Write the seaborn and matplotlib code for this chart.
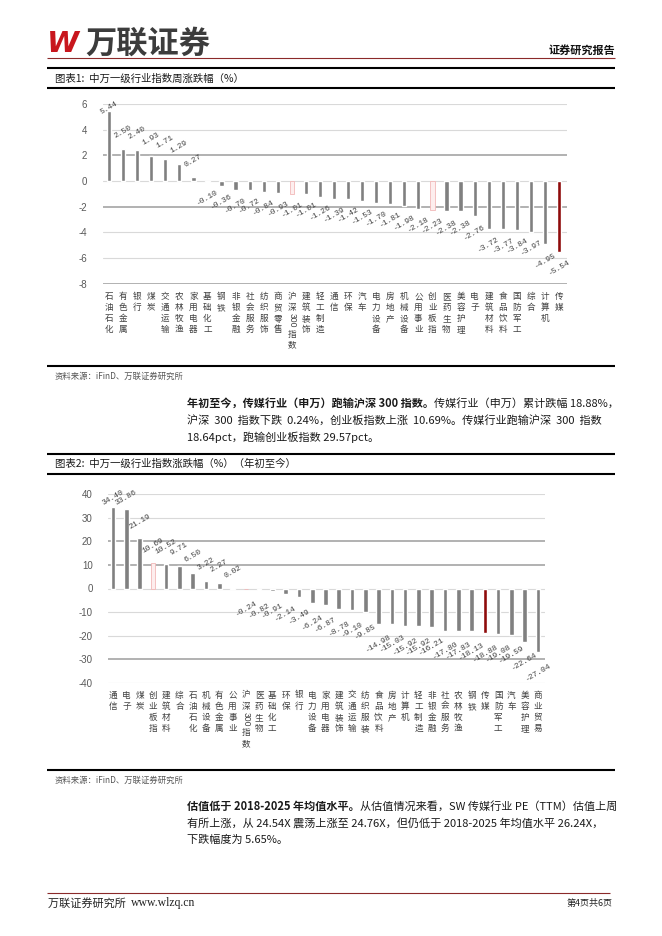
import matplotlib
matplotlib.use("Agg")
import matplotlib.pyplot as plt
from matplotlib.lines import Line2D
import seaborn as sns

# ---------------- data ----------------
week_cats = ["石油石化", "有色金属", "银行", "煤炭", "交通运输", "农林牧渔", "家用电器",
             "基础化工", "钢铁", "非银金融", "社会服务", "纺织服饰", "商贸零售", "沪深300指数",
             "建筑装饰", "轻工制造", "通信", "环保", "汽车", "电力设备", "房地产", "机械设备",
             "公用事业", "创业板指", "医药生物", "美容护理", "电子", "建筑材料", "食品饮料",
             "国防军工", "综合", "计算机", "传媒"]
week_vals = [5.44, 2.50, 2.40, 1.93, 1.71, 1.29, 0.27, -0.10, -0.36, -0.70, -0.72, -0.84,
             -0.93, -1.01, -1.01, -1.26, -1.39, -1.42, -1.53, -1.70, -1.81, -1.98, -2.18,
             -2.23, -2.38, -2.38, -2.76, -3.72, -3.77, -3.84, -3.97, -4.95, -5.54]
week_yticks = [6, 4, 2, 0, -2, -4, -6, -8]

ytd_cats = ["通信", "电子", "煤炭", "创业板指", "建筑材料", "综合", "石油石化", "机械设备",
            "有色金属", "公用事业", "沪深300指数", "医药生物", "基础化工", "环保", "银行",
            "电力设备", "家用电器", "建筑装饰", "交通运输", "纺织服装", "食品饮料", "房地产",
            "计算机", "轻工制造", "非银金融", "社会服务", "农林牧渔", "钢铁", "传媒", "国防军工",
            "汽车", "美容护理", "商业贸易"]
ytd_vals = [34.40, 33.86, 21.19, 10.69, 10.52, 9.71, 6.50, 3.22, 2.27, 0.02, -0.24, -0.82,
            -0.91, -2.14, -3.49, -6.24, -6.87, -8.78, -9.10, -9.85, -14.98, -15.03, -15.92,
            -15.92, -16.21, -17.80, -17.83, -18.13, -18.88, -19.08, -19.59, -22.64, -27.04]
ytd_yticks = [40, 30, 20, 10, 0, -10, -20, -30, -40]

index_cats = ["沪深300指数", "创业板指"]
focus_cat = "传媒"

title1 = "图表1:  中万一级行业指数周涨跌幅（%）"
title2 = "图表2:  中万一级行业指数涨跌幅（%）（年初至今）"
source_txt = "资料来源：iFinD、万联证券研究所"
para1 = [
    [("年初至今，传媒行业（申万）跑输沪深 300 指数。", "bold"), ("传媒行业（申万）累计跌幅 18.88%，", "normal")],
    [("沪深  300  指数下跌  0.24%，创业板指数上涨  10.69%。传媒行业跑输沪深  300  指数", "normal")],
    [("18.64pct，跑输创业板指数 29.57pct。", "normal")],
]
para2 = [
    [("估值低于 2018-2025 年均值水平。", "bold"), ("从估值情况来看，SW 传媒行业 PE（TTM）估值上周", "normal")],
    [("有所上涨，从 24.54X 震荡上涨至 24.76X，但仍低于 2018-2025 年均值水平 26.24X，", "normal")],
    [("下跌幅度为 5.65%。", "normal")],
]

# ---------------- style ----------------
sns.set_style("white")
plt.rcParams['font.family'] = ['Noto Sans CJK SC', 'DejaVu Sans']
plt.rcParams['axes.unicode_minus'] = False

W, H = 662, 936
GRAY = "#808080"
DARKRED = "#8e0b0b"
PINK_FACE = "#fdeeee"
PINK_EDGE = "#f2b8b8"
GRID_LIGHT = "#d9d9d9"
GRID_HEAVY = "#ababab"
LABEL_FS = 6.2
LABEL_LS = 1.3
LABEL_COLOR = "#404040"

fig = plt.figure(figsize=(W / 100, H / 100), dpi=100)
renderer = fig.canvas.get_renderer()


def fx(x):
    return x / W


def fy(y):
    return 1 - y / H


def hline(y, x0, x1, lw, color):
    fig.add_artist(Line2D([fx(x0), fx(x1)], [fy(y), fy(y)], transform=fig.transFigure,
                          lw=lw, color=color, solid_capstyle='butt'))


def runs(x, y, parts, size, color="#1a1a1a"):
    for txt, weight in parts:
        t = fig.text(fx(x), fy(y), txt, fontsize=size, fontweight=weight, color=color,
                     ha='left', va='center')
        x += t.get_window_extent(renderer).width


def vert_label(c):
    # for the index label only the part before "300" is the tick label; rest is added later
    if "300" in c:
        return "\n".join(c.split("300")[0])
    return "\n".join(c)


def draw_chart(rect, cats, vals, yticks, bar_w, xlim, up_px, dn_px, heavy, ypad, xpad):
    ax = fig.add_axes(rect)
    sns.barplot(x=cats, y=vals, ax=ax, color=GRAY, width=bar_w, saturation=1, zorder=3)
    for p, c in zip(ax.patches, cats):
        if c in index_cats:
            p.set_facecolor(PINK_FACE)
            p.set_edgecolor(PINK_EDGE)
            p.set_linewidth(0.6)
        elif c == focus_cat:
            p.set_facecolor(DARKRED)
    ax.set_ylim(yticks[-1], yticks[0])
    ax.set_xlim(*xlim)
    ax.set_yticks(yticks)
    for t in yticks:
        if t in heavy:
            ax.axhline(t, color=GRID_HEAVY, lw=1.3, zorder=0)
        else:
            ax.axhline(t, color=GRID_LIGHT, lw=0.8, zorder=0)
    for s in ax.spines.values():
        s.set_visible(False)
    ax.set_xlabel("")
    ax.set_ylabel("")
    ax.tick_params(axis='y', length=0, pad=ypad, labelsize=7, labelcolor="#595959")
    for lab in ax.get_yticklabels():
        lab.set_fontfamily('Liberation Sans')
    ax.set_xticks(range(len(cats)))
    ax.set_xticklabels([vert_label(c) for c in cats], fontsize=LABEL_FS, color=LABEL_COLOR,
                       linespacing=LABEL_LS, va='top')
    ax.tick_params(axis='x', length=0, pad=xpad)
    # data labels
    ppu = ax.transData.transform((0, 1))[1] - ax.transData.transform((0, 0))[1]
    ymax = yticks[0]
    for i, v in enumerate(vals):
        if v >= 0:
            ly = v + up_px / ppu
            if ly > ymax - 4 / ppu:
                ly = ymax - 4 / ppu
        else:
            ly = v - dn_px / ppu
        ax.text(i, ly, f"{v:.2f}", rotation=30, ha='center', va='center',
                fontsize=5.8, family='Liberation Mono', color="#404040", zorder=5)
    return ax


# chart 1 axes: x 103..567, y 104..283.5
ax1 = draw_chart([fx(103), fy(283.5), 464 / W, 179.5 / H], week_cats, week_vals, week_yticks,
                 0.3, (-0.43, 32.57), 17, 16, [2, -2, -8], 11.5, 6)
# chart 2 axes: x 108..545, y 494..683
ax2 = draw_chart([fx(108), fy(683), 437 / W, 189 / H], ytd_cats, ytd_vals, ytd_yticks,
                 0.35, (-0.38, 32.53), 17, 20, [20, -30, 10], 11, 5.5)

# finish the index labels: rotated "300" then the remaining characters
fig.canvas.draw()
for ax, cats in ((ax1, week_cats), (ax2, ytd_cats)):
    for lab, c in zip(ax.get_xticklabels(), cats):
        if "300" in c:
            head, tail = c.split("300")
            bb = lab.get_window_extent(renderer)
            row = bb.height / len(head)
            cx = (bb.x0 + bb.x1) / 2
            fig.text(cx / W, (bb.y0 - 1.5) / H, "300", rotation=-90, ha='center', va='top',
                     fontsize=6.2, family='Liberation Sans', color=LABEL_COLOR)
            fig.text(cx / W, (bb.y0 - 1.75 * row) / H, "\n".join(tail), ha='center', va='top',
                     fontsize=LABEL_FS, linespacing=LABEL_LS, color=LABEL_COLOR)

# ---------------- page furniture ----------------
fig.text(fx(47), fy(44), "W", fontsize=21, fontweight='bold', style='italic',
         family='DejaVu Sans', color="#c8161d", ha='left', va='center')
fig.text(fx(85), fy(44), "万联证券", fontsize=22.5, fontweight='bold', color="#3c3c3c",
         ha='left', va='center')
fig.text(fx(615), fy(50), "证券研究报告", fontsize=8, fontweight='bold', color="#111111",
         ha='right', va='center')
hline(57.5, 47, 615, 0.8, "#8b2a2a")

hline(68, 47, 615, 1.5, "#000000")
fig.text(fx(55), fy(79), title1, fontsize=7.5, color="#1a1a1a", ha='left', va='center')
hline(88, 47, 615, 1.5, "#000000")

hline(366, 47, 615, 1.5, "#000000")
fig.text(fx(55), fy(376), source_txt, fontsize=6, color="#555555", ha='left', va='center')
for k, line in enumerate(para1):
    runs(187, 403 + 17 * k, line, 8)

hline(454, 47, 615, 1.5, "#000000")
fig.text(fx(55), fy(464), title2, fontsize=7.5, color="#1a1a1a", ha='left', va='center')
hline(474, 47, 615, 1.5, "#000000")

hline(770, 47, 615, 1.5, "#000000")
fig.text(fx(55), fy(780), source_txt, fontsize=6, color="#555555", ha='left', va='center')
for k, line in enumerate(para2):
    runs(187, 806 + 17 * k, line, 8)

hline(893, 47, 610, 0.8, "#8b2a2a")
t = fig.text(fx(48), fy(903), "万联证券研究所  ", fontsize=8, color="#222222",
             ha='left', va='center')
w0 = t.get_window_extent(renderer).width
fig.text(fx(48 + w0), fy(903), "www.wlzq.cn", fontsize=8.5, family='Liberation Serif',
         color="#222222", ha='left', va='center')
fig.text(fx(613), fy(903), "第4页共6页", fontsize=6.5, color="#222222", ha='right', va='center')

fig.savefig("out.png", dpi=100)
